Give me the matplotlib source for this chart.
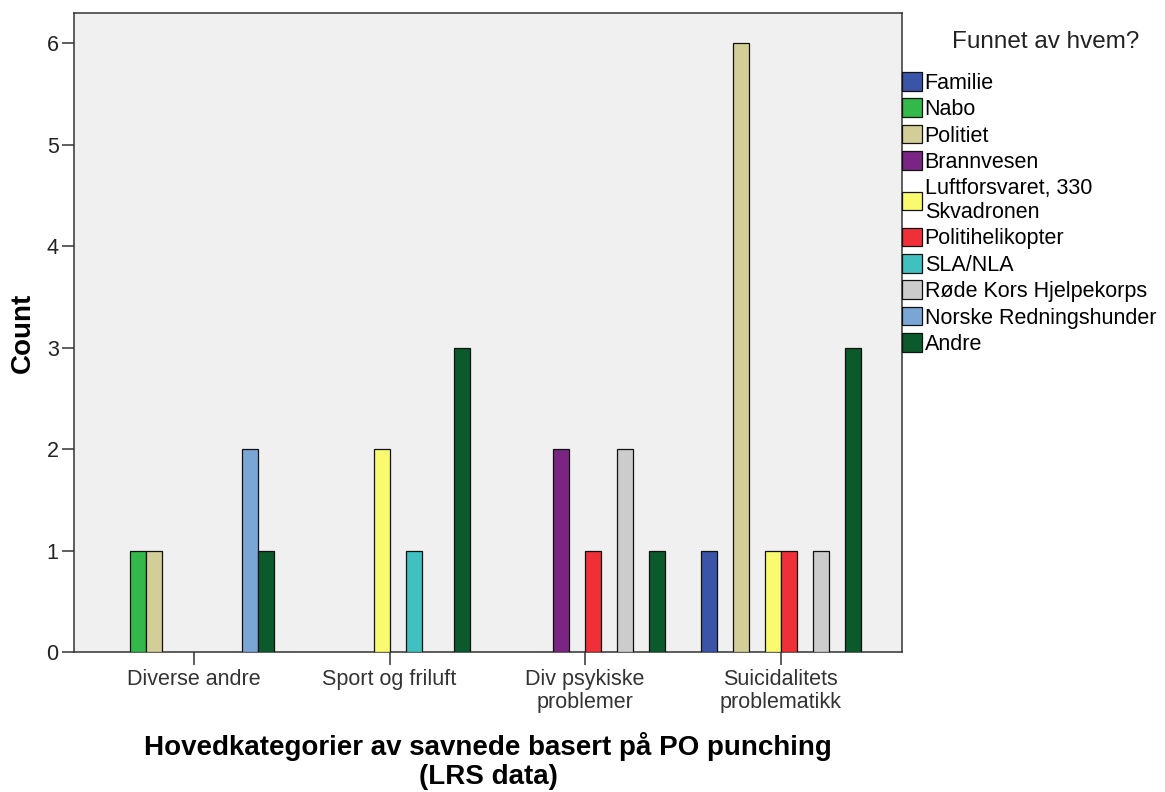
import numpy as np
import matplotlib
matplotlib.use('Agg')
import matplotlib.pyplot as plt
from matplotlib.patches import Patch

plt.rcParams['font.family'] = ['Liberation Sans', 'DejaVu Sans']

categories = ['Diverse andre', 'Sport og friluft', 'Div psykiske\nproblemer', 'Suicidalitets\nproblematikk']
groups = ['Familie', 'Nabo', 'Politiet', 'Brannvesen', 'Luftforsvaret, 330\nSkvadronen',
          'Politihelikopter', 'SLA/NLA', 'Røde Kors Hjelpekorps', 'Norske Redningshunder', 'Andre']
colors = ['#3a55a8', '#33b84a', '#d3ce97', '#7a2584', '#fafa6e',
          '#f03039', '#40c0c0', '#cccccc', '#7aa6d6', '#0b5a2c']

# counts per category, one list per group (0 = no bar)
familie = [0, 0, 0, 1]
nabo = [1, 0, 0, 0]
politiet = [1, 0, 0, 6]
brannvesen = [0, 0, 2, 0]
luftforsvaret = [0, 2, 0, 1]
politihelikopter = [0, 0, 1, 1]
sla_nla = [0, 1, 0, 0]
rode_kors = [0, 0, 2, 1]
redningshunder = [2, 0, 0, 0]
andre = [1, 3, 1, 3]
counts = [familie, nabo, politiet, brannvesen, luftforsvaret,
          politihelikopter, sla_nla, rode_kors, redningshunder, andre]

fig = plt.figure(figsize=(11.65, 7.92), dpi=100)
ax = fig.add_axes([0.0635, 0.1768, 0.7107, 0.8068])
ax.set_facecolor('#f0f0f0')

x = np.arange(len(categories))
w = 0.0818
for i, (vals, c) in enumerate(zip(counts, colors)):
    off = (i - 4.5) * w
    for j, v in enumerate(vals):
        if v > 0:
            ax.bar(x[j] + off, v, w, color=c, edgecolor='#111111', linewidth=0.9, zorder=3)

ax.set_xlim(-0.614, 3.62)
ax.set_ylim(0, 6.3)
ax.set_yticks(range(7))
ax.set_xticks(x)
ax.set_xticklabels(categories, fontsize=15.5, color='#222222', linespacing=1.1)
ax.tick_params(axis='y', labelsize=15.5, length=9, width=1.1, pad=2, colors='#333333', labelcolor='#222222')
ax.tick_params(axis='x', length=9, width=1.1, pad=3.5, colors='#333333')
for s in ax.spines.values():
    s.set_linewidth(1.1)
    s.set_color('#333333')

ax.set_ylabel('Count', fontsize=20, fontweight='bold', labelpad=8)
ax.set_xlabel('Hovedkategorier av savnede basert på PO punching\n(LRS data)',
              fontsize=20, fontweight='bold', labelpad=14, linespacing=1.15)

handles = [Patch(facecolor=c, edgecolor='#111111', linewidth=0.9) for c in colors]
fig.legend(handles, groups, loc='upper left', bbox_to_anchor=(902 / 1165, 1 - 72 / 792),
           frameon=False, fontsize=15.5, borderpad=0, borderaxespad=0,
           handlelength=0.95, handleheight=0.95, handletextpad=0.1, labelspacing=0.22)
fig.text(1046 / 1165, 1 - 42 / 792, 'Funnet av hvem?', fontsize=17.5, ha='center', va='center', color='#222222')

fig.savefig('out.png', dpi=100)
